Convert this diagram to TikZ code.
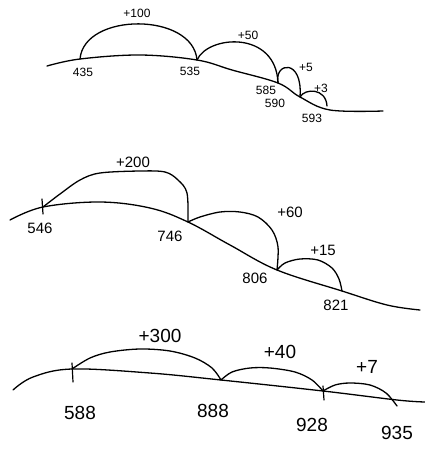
\documentclass[tikz,border=0pt]{standalone}
\usepackage{fontspec}
\setmainfont{Liberation Sans}
\begin{document}
\begin{tikzpicture}[x=1pt,y=-1pt, line cap=round, line join=round,
  numline/.style={line width=1.3pt},
  jump/.style={line width=1.3pt},
  tickmark/.style={line width=1.2pt},
  smalllbl/.style={font=\fontsize{12}{12}\selectfont, inner sep=0pt},
  midlbl/.style={font=\fontsize{15}{15}\selectfont, inner sep=0pt},
  biglbl/.style={font=\fontsize{19}{19}\selectfont, inner sep=0pt}]
\useasboundingbox (0,0) rectangle (425,450);

% ---------- top number line ----------
\coordinate (a435) at (80,59);
\coordinate (a535) at (197,60);
\coordinate (a585) at (278,83);
\coordinate (a590) at (300,97);
\coordinate (a593) at (327,106);
\coordinate (aL) at (47,66);
\coordinate (aR) at (383,111);
\draw[numline] plot[smooth, tension=0.6] coordinates {(aL) (a435) (140,55) (a535) (232,70) (a585) (a590) (330,110) (aR)};
\draw[jump] (a435) .. controls (84,12) and (193,12) .. (a535);
\draw[jump] (a535) .. controls (208,35) and (276,30) .. (a585);
\draw[jump] (a585) .. controls (274,62) and (303,58) .. (a590);
\draw[jump] (a590) .. controls (305,88) and (326,88) .. (a593);
\node[smalllbl] (t1) at (137,13) {+100};
\node[smalllbl] (t2) at (248,35) {+50};
\node[smalllbl] (t3) at (306,67) {+5};
\node[smalllbl] (t4) at (321,88) {+3};
\node[smalllbl] (n435) at (83,72) {435};
\node[smalllbl] (n535) at (190,71) {535};
\node[smalllbl] (n585) at (266,90) {585};
\node[smalllbl] (n590) at (275,103) {590};
\node[smalllbl] (n593) at (312,118) {593};

% ---------- middle number line ----------
\coordinate (b546) at (43,207);
\coordinate (b746) at (188,222);
\coordinate (b806) at (277,270);
\coordinate (b821) at (342,291);
\coordinate (bL) at (10,220);
\coordinate (bR) at (420,310);
\draw[numline] plot[smooth, tension=0.6] coordinates {(bL) (b546) (100,202) (150,208) (b746) (230,245) (b806) (b821) (387,305) (bR)};
\draw[tickmark] (42,199) -- (43,214);
\draw[jump] plot[smooth, tension=0.55] coordinates {(b546) (60,194) (80,180) (100,173) (140,171) (165,172) (178,180) (187,193) (b746)};
\draw[jump] plot[smooth, tension=0.55] coordinates {(b746) (200,217) (220,212) (240,212) (258,217) (272,230) (278,247) (b806)};
\draw[jump] plot[smooth, tension=0.55] coordinates {(b806) (285,263) (300,259) (318,260) (332,268) (339,279) (b821)};
\node[midlbl] (t5) at (133,162) {+200};
\node[midlbl] (t6) at (290,212) {+60};
\node[midlbl] (t7) at (323,250) {+15};
\node[midlbl] (n546) at (40,228) {546};
\node[midlbl] (n746) at (170,236) {746};
\node[midlbl] (n806) at (255,278) {806};
\node[midlbl] (n821) at (336,305) {821};

% ---------- bottom number line ----------
\coordinate (c588) at (72,369);
\coordinate (c888) at (221,380);
\coordinate (c928) at (323,391);
\coordinate (c935) at (397,406);
\coordinate (cL) at (13,390);
\coordinate (cR) at (425,402);
\draw[numline] plot[smooth, tension=0.6] coordinates {(cL) (33,377) (c588) (150,373) (c888) (c928) (397,400) (cR)};
\draw[tickmark] (72,363) -- (73,382);
\draw[tickmark] (323,386) -- (324,400);
\draw[jump] plot[smooth, tension=0.55] coordinates {(c588) (90,358) (110,352) (140,349) (170,351) (195,358) (212,368) (c888)};
\draw[jump] plot[smooth, tension=0.55] coordinates {(c888) (232,372) (250,368) (270,368) (295,372) (312,380) (c928)};
\draw[jump] plot[smooth, tension=0.55] coordinates {(c928) (335,385) (350,383) (370,385) (386,393) (c935)};
\node[biglbl] (t8) at (160,336) {+300};
\node[biglbl] (t9) at (280,352) {+40};
\node[biglbl] (t10) at (367,367) {+7};
\node[biglbl] (n588) at (80,413) {588};
\node[biglbl] (n888) at (213,411) {888};
\node[biglbl] (n928) at (312,425) {928};
\node[biglbl] (n935) at (397,433) {935};
\end{tikzpicture}
\end{document}
